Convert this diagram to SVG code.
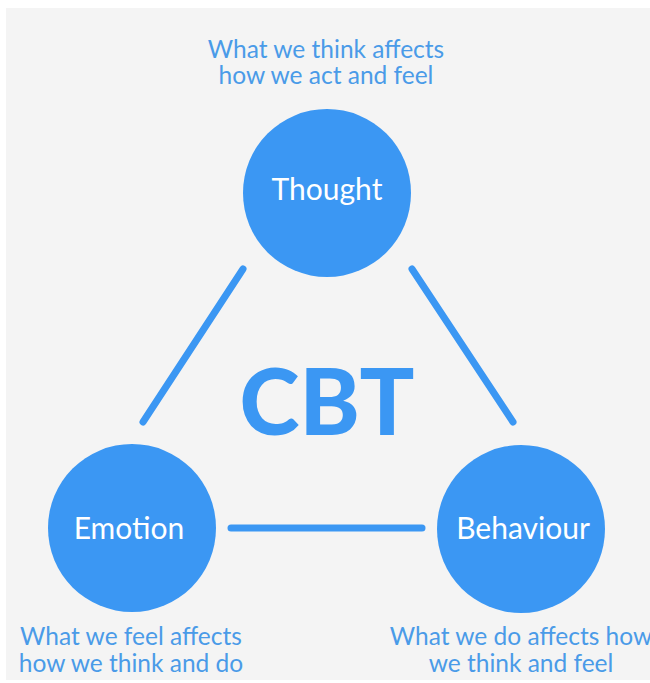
<svg xmlns="http://www.w3.org/2000/svg" width="650" height="683" viewBox="0 0 650 683">
<style>
.node circle{fill:#3b97f3}
.node text{fill:#ffffff;font-family:Lato,"Noto Sans",sans-serif;font-size:30px;text-anchor:middle}
.cap{fill:#4a9be8;font-family:Lato,"Noto Sans",sans-serif;font-size:24.5px;text-anchor:middle}
.conn line{stroke:#3b97f3;stroke-width:7;stroke-linecap:round}
</style>
<rect x="0" y="0" width="650" height="683" fill="#ffffff"/>
<rect x="6" y="8" width="644" height="672" fill="#f4f4f4"/>
<g id="connectors" class="conn">
<line x1="243" y1="269" x2="143" y2="422"/>
<line x1="412" y1="269" x2="513" y2="422"/>
<line x1="231" y1="528" x2="422" y2="528"/>
</g>
<g id="thought" class="node">
<circle cx="327" cy="193" r="84"/>
<text x="327" y="200">Thought</text>
</g>
<g id="emotion" class="node">
<circle cx="132" cy="528" r="84"/>
<text x="129" y="539">Emotion</text>
</g>
<g id="behaviour" class="node">
<circle cx="521" cy="529" r="84"/>
<text x="523" y="539">Behaviour</text>
</g>
<g id="cbt">
<text x="327" y="435" fill="#3b97f3" font-family="Lato,'Noto Sans',sans-serif" font-weight="900" font-size="91" text-anchor="middle">CBT</text>
</g>
<g id="captions">
<text class="cap" x="326" y="58">What we think affects</text>
<text class="cap" x="326" y="84">how we act and feel</text>
<text class="cap" x="131" y="645">What we feel affects</text>
<text class="cap" x="131" y="672">how we think and do</text>
<text class="cap" x="521" y="645">What we do affects how</text>
<text class="cap" x="521" y="672">we think and feel</text>
</g>
</svg>
